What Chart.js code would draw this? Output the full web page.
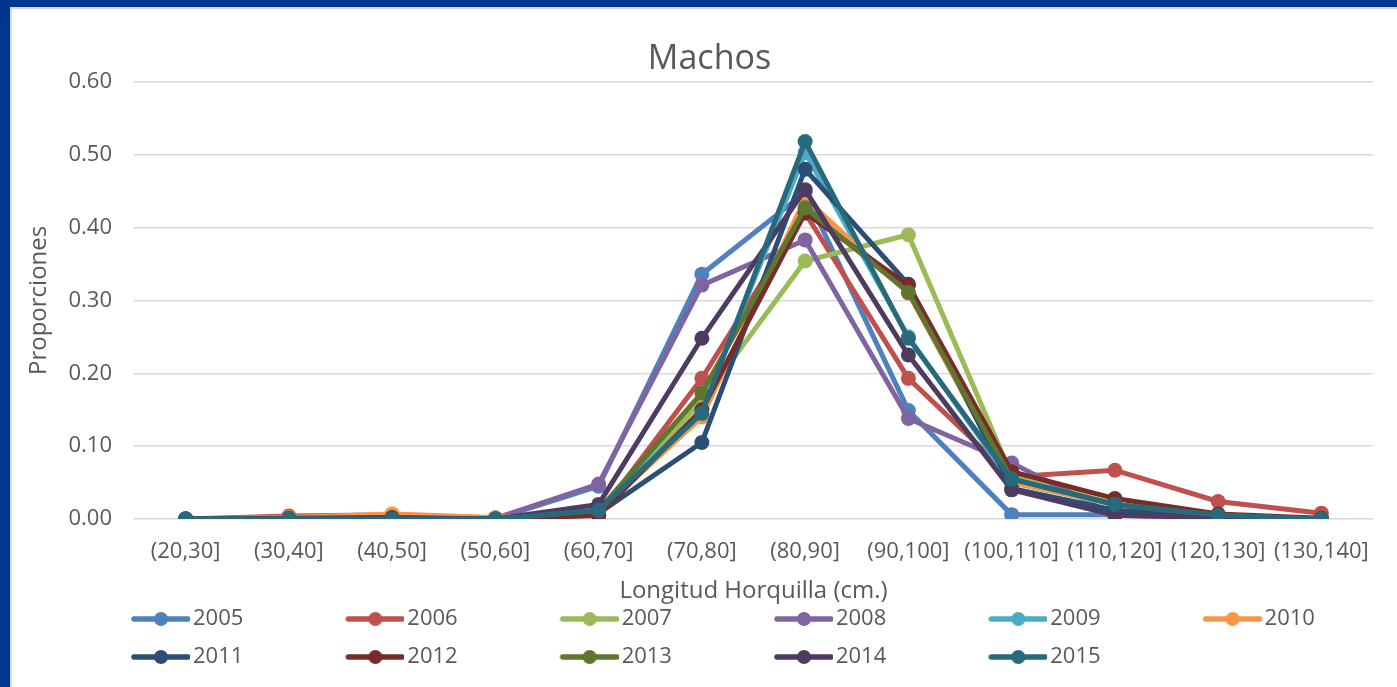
<!DOCTYPE html>
<html>
<head>
<meta charset="utf-8">
<script src="https://cdn.jsdelivr.net/npm/chart.js@4.4.1/dist/chart.umd.min.js"></script>
<style>
  body { margin: 0; background: #fff; }
  #frame {
    position: absolute; left: 0; top: 0; width: 1397px; height: 687px;
    box-sizing: border-box;
    border-left: 10px solid #003592; border-top: 7px solid #003592;
  }
  #inner {
    position: absolute; left: 0; top: 0; right: 0; bottom: 0;
    border-left: 2px solid #d9d9d9; border-top: 2px solid #d9d9d9;
  }
  #myChart { position: absolute; left: 0; top: 0; }
</style>
</head>
<body>
<div id="frame"><div id="inner"></div></div>
<canvas id="myChart" width="1397" height="687"></canvas>
<script>
// length classes (fork length, cm)
const categories = ['(20,30]', '(30,40]', '(40,50]', '(50,60]', '(60,70]', '(70,80]',
                    '(80,90]', '(90,100]', '(100,110]', '(110,120]', '(120,130]', '(130,140]'];
const years = ['2005', '2006', '2007', '2008', '2009', '2010', '2011', '2012', '2013', '2014', '2015'];
const yTicks = [0, 0.1, 0.2, 0.3, 0.4, 0.5, 0.6];

const p2005 = [0, 0.001, 0.001, 0, 0.045, 0.336, 0.448, 0.149, 0.006, 0.006, 0.003, 0];
const p2006 = [0, 0.004, 0.006, 0.001, 0.005, 0.193, 0.420, 0.193, 0.058, 0.067, 0.024, 0.008];
const p2007 = [0, 0, 0.002, 0, 0.010, 0.162, 0.354, 0.390, 0.060, 0.020, 0.004, 0];
const p2008 = [0, 0.002, 0.003, 0.001, 0.048, 0.321, 0.383, 0.138, 0.077, 0.005, 0.002, 0];
const p2009 = [0, 0, 0.001, 0, 0.012, 0.150, 0.503, 0.250, 0.050, 0.020, 0.005, 0];
const p2010 = [0, 0.002, 0.007, 0.002, 0.010, 0.140, 0.440, 0.310, 0.050, 0.020, 0.004, 0];
const p2011 = [0, 0, 0, 0, 0.008, 0.105, 0.480, 0.322, 0.042, 0.012, 0.003, 0];
const p2012 = [0, 0.001, 0.002, 0, 0.005, 0.150, 0.420, 0.321, 0.065, 0.028, 0.007, 0.001];
const p2013 = [0, 0, 0.001, 0, 0.012, 0.173, 0.427, 0.311, 0.055, 0.020, 0.005, 0];
const p2014 = [0, 0, 0.001, 0, 0.020, 0.248, 0.452, 0.225, 0.040, 0.005, 0.002, 0];
const p2015 = [0, 0, 0, 0, 0.012, 0.145, 0.518, 0.248, 0.055, 0.020, 0.005, 0];

const series = [p2005, p2006, p2007, p2008, p2009, p2010, p2011, p2012, p2013, p2014, p2015];
const colors = ['#4F81BD', '#C0504D', '#9BBB59', '#8064A2', '#4BACC6', '#F79646',
                '#2C4D75', '#772C2A', '#5F7530', '#4D3B62', '#276A7C'];

const textColor = '#595959';
const fontFamily = '"Open Sans", sans-serif';

// legend symbol: short line with a dot, drawn on the right part of the image
function legendMarker(color) {
    const c = document.createElement('canvas');
    c.width = 153;
    c.height = 16;
    const g = c.getContext('2d');
    g.strokeStyle = color;
    g.lineWidth = 5.5;
    g.lineCap = 'round';
    g.beginPath();
    g.moveTo(97, 8);
    g.lineTo(151, 8);
    g.stroke();
    g.fillStyle = color;
    g.beginPath();
    g.arc(124, 8, 7, 0, Math.PI * 2);
    g.fill();
    return c;
}

// nudge the legend and title to line up with the original
const legendPlace = {
    id: 'legendPlace',
    afterLayout(chart) {
        chart.legend.left = 29;
        chart.legend.top = chart.scales.x.bottom - 15;
        chart.titleBlock.left += 17;
        chart.titleBlock.right += 17;
    }
};

function loadLineChart() {
    const ctx = document.getElementById('myChart').getContext('2d');

    const datasets = years.map((y, i) => ({
        label: y,
        data: series[i],
        borderColor: colors[i],
        backgroundColor: colors[i],
        borderWidth: 5,
        pointRadius: 7.5,
        pointHoverRadius: 7.5,
        pointBorderWidth: 0,
        tension: 0,
        order: years.length - i   // later years drawn on top
    }));

    new Chart(ctx, {
        type: 'line',
        data: { labels: categories, datasets: datasets },
        plugins: [legendPlace],
        options: {
            responsive: false,
            animation: false,
            devicePixelRatio: 1,
            layout: { padding: { left: 12, top: 9, right: 24, bottom: 4 } },
            plugins: {
                title: {
                    display: true,
                    text: 'Machos',
                    color: textColor,
                    font: { family: fontFamily, size: 34, weight: 'normal' },
                    padding: { top: 30, bottom: 2 }
                },
                legend: {
                    position: 'bottom',
                    align: 'start',
                    maxHeight: 76,
                    labels: {
                        usePointStyle: true,
                        pointStyleWidth: 137,
                        padding: 16,
                        color: textColor,
                        font: { family: fontFamily, size: 22 },
                        generateLabels: chart => chart.data.datasets.map((ds, i) => ({
                            text: ds.label,
                            fillStyle: ds.borderColor,
                            strokeStyle: ds.borderColor,
                            fontColor: textColor,
                            lineWidth: 0,
                            pointStyle: legendMarker(ds.borderColor),
                            hidden: !chart.isDatasetVisible(i),
                            datasetIndex: i
                        }))
                    }
                },
                tooltip: { enabled: false }
            },
            scales: {
                x: {
                    offset: true,
                    grid: { display: false },
                    border: { display: false },
                    ticks: {
                        autoSkip: false,
                        maxRotation: 0,
                        padding: 12,
                        color: textColor,
                        font: { family: fontFamily, size: 22 }
                    },
                    title: {
                        display: true,
                        text: 'Longitud Horquilla (cm.)',
                        color: textColor,
                        font: { family: fontFamily, size: 24 },
                        padding: { top: 0, bottom: 1 }
                    },
                    afterFit: scale => { scale.height = 88; }
                },
                y: {
                    min: 0,
                    max: 0.6,
                    grid: { color: '#d9d9d9', lineWidth: 1.5, drawTicks: false },
                    border: { display: false },
                    afterBuildTicks: scale => { scale.ticks = yTicks.map(v => ({ value: v })); },
                    ticks: {
                        padding: 22,
                        color: textColor,
                        font: { family: fontFamily, size: 22 },
                        callback: v => v.toFixed(2)
                    },
                    title: {
                        display: true,
                        text: 'Proporciones',
                        color: textColor,
                        font: { family: fontFamily, size: 24 },
                        padding: { top: 13, bottom: 0 }
                    },
                    afterFit: scale => { scale.width = 122; }
                }
            }
        }
    });
}
document.addEventListener('DOMContentLoaded', loadLineChart);
</script>
</body>
</html>
